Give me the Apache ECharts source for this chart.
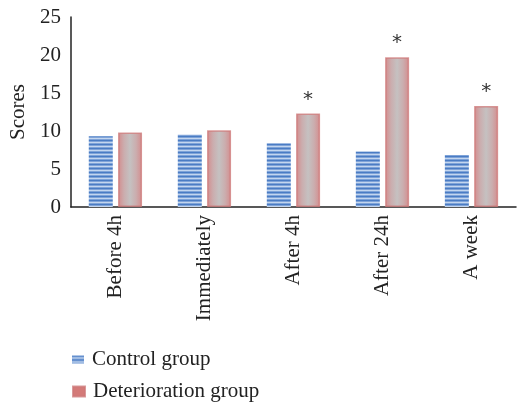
<!DOCTYPE html>
<html><head><meta charset="utf-8">
<script src="https://cdn.jsdelivr.net/npm/echarts@6/dist/echarts.min.js"></script>
<style>html,body{margin:0;padding:0;background:#fff}#c{width:525px;height:404px}</style>
</head><body><div id="c"></div>
<script>
const categories = ['Before 4h', 'Immediately', 'After 4h', 'After 24h', 'A week'];
const controlValues = [9.3, 9.55, 8.4, 7.3, 6.85];
const deteriorationValues = [9.8, 10.1, 12.3, 19.7, 13.3];
const significant = [false, false, true, true, true];
const yTicks = [0, 5, 10, 15, 20, 25];

const pc = document.createElement('canvas');
pc.width = 4; pc.height = 4;
const g = pc.getContext('2d');
g.fillStyle = '#4a7cc4'; g.fillRect(0, 0, 4, 4);
g.fillStyle = '#c3d6ef'; g.fillRect(0, 2, 4, 1);
g.fillStyle = '#7fa3d8'; g.fillRect(0, 1, 4, 1); g.fillRect(0, 3, 4, 1);

const redGrad = new echarts.graphic.LinearGradient(0, 0, 1, 0, [
  {offset: 0, color: '#d48c8d'},
  {offset: 0.25, color: '#cbadae'},
  {offset: 0.5, color: '#c5c1c1'},
  {offset: 0.75, color: '#cbadae'},
  {offset: 1, color: '#d48c8d'}
]);

const chart = echarts.init(document.getElementById('c'), null, {renderer: 'canvas'});
const font = '"Liberation Serif", "DejaVu Serif", serif';
const legendText = {fontFamily: font, fontSize: 21, color: '#222', padding: [0, 0, 0, 3]};
chart.setOption({
  animation: false,
  textStyle: {fontFamily: font},
  grid: {left: 68, right: 9, top: 17, bottom: 197},
  legend: [
    {
      left: 67, top: 344, itemWidth: 12, itemHeight: 8,
      textStyle: legendText,
      data: [{name: 'Control group', icon: 'rect', itemStyle: {color: {image: pc, repeat: 'repeat'}}}]
    },
    {
      left: 67, top: 376, itemWidth: 12, itemHeight: 10,
      textStyle: legendText,
      data: [{name: 'Deterioration group', icon: 'rect', itemStyle: {color: '#d47a78'}}]
    }
  ],
  xAxis: {
    type: 'category', data: categories,
    axisLine: {lineStyle: {color: '#222', width: 1.5}},
    axisTick: {show: false},
    axisLabel: {rotate: 90, fontFamily: font, fontSize: 21, color: '#222', margin: 8}
  },
  yAxis: {
    type: 'value', min: 0, max: 25, interval: 5,
    name: 'Scores', nameLocation: 'middle', nameGap: 40, nameRotate: 90,
    nameTextStyle: {fontFamily: font, fontSize: 21, color: '#222'},
    axisLine: {show: true, lineStyle: {color: '#222', width: 1.5}},
    axisTick: {show: false},
    splitLine: {show: false},
    axisLabel: {fontFamily: font, fontSize: 21, color: '#222', margin: 10,
      formatter: v => yTicks.includes(v) ? String(v) : ''}
  },
  series: [
    {
      name: 'Control group', type: 'bar', barWidth: 24, barGap: '22%',
      data: controlValues,
      itemStyle: {color: {image: pc, repeat: 'repeat'}}
    },
    {
      name: 'Deterioration group', type: 'bar', barWidth: 24, barGap: '22%',
      data: deteriorationValues.map((v, i) => ({
        value: v,
        label: {show: significant[i], position: 'top', distance: 4, formatter: '*',
          fontSize: 20, color: '#333', fontFamily: '"DejaVu Sans", sans-serif'}
      })),
      itemStyle: {color: redGrad, borderColor: 'rgba(205,120,120,0.75)', borderWidth: 1.5}
    }
  ]
});
</script></body></html>
